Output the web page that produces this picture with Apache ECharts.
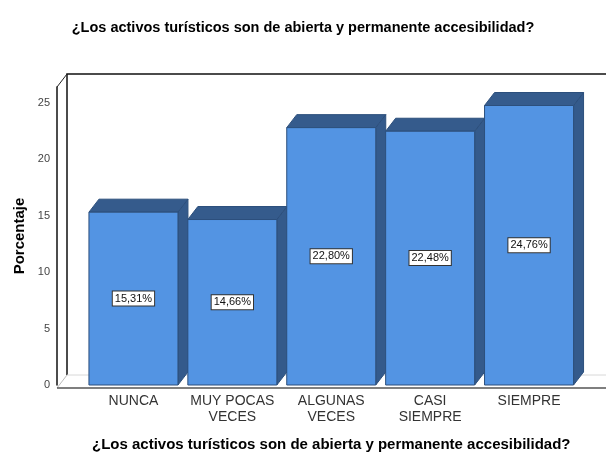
<!DOCTYPE html>
<html>
<head>
<meta charset="utf-8">
<script src="https://cdn.jsdelivr.net/npm/echarts@6/dist/echarts.min.js"></script>
<style>
  html, body { margin: 0; padding: 0; background: #fff; }
  #chart { width: 606px; height: 457px; }
</style>
</head>
<body>
<div id="chart"></div>
<script>
// Response categories and their percentages
const categories = ['NUNCA', 'MUY POCAS\nVECES', 'ALGUNAS\nVECES', 'CASI\nSIEMPRE', 'SIEMPRE'];
const percentages = [15.31, 14.66, 22.80, 22.48, 24.76];
const yTicks = [0, 5, 10, 15, 20, 25];

const chartTitle = '¿Los activos turísticos son de abierta y permanente accesibilidad?';
const FONT = 'Arial, "Liberation Sans", sans-serif';

// Pseudo-3D depth of the boxes and of the chart frame
const DX = 10, DY = 13;

// Plot frame (front face of the box)
const FRONT_LEFT = 57, FRONT_TOP = 87, FRONT_BOTTOM = 388, RIGHT_EDGE = 606;
const GRID_LEFT = 84, GRID_RIGHT = 27.5;

const chart = echarts.init(document.getElementById('chart'), null, { renderer: 'canvas' });

function fmt(v) {
  return v.toFixed(2).replace('.', ',') + '%';
}

function renderBox(params, api) {
  const idx = api.value(0);
  const v = api.value(1);
  const top = api.coord([idx, v]);
  const base = api.coord([idx, 0]);
  const w = api.size([1, 0])[0] * 0.9;
  const L = top[0] - w / 2, R = top[0] + w / 2, T = top[1], B = base[1];
  const edge = { stroke: '#2c4f7c', lineWidth: 1 };
  return {
    type: 'group',
    children: [
      {
        type: 'polygon',
        shape: { points: [[R, T], [R + DX, T - DY], [R + DX, B - DY], [R, B]] },
        style: Object.assign({ fill: '#345a8b' }, edge)
      },
      {
        type: 'polygon',
        shape: { points: [[L, T], [L + DX, T - DY], [R + DX, T - DY], [R, T]] },
        style: Object.assign({ fill: '#355b8c' }, edge)
      },
      {
        type: 'rect',
        shape: { x: L, y: T, width: w, height: B - T },
        style: Object.assign({ fill: '#5394e3' }, edge)
      },
      {
        type: 'text',
        x: (L + R) / 2,
        y: (T + B) / 2,
        style: {
          text: fmt(v),
          fill: '#111',
          font: '11px ' + FONT,
          align: 'center',
          verticalAlign: 'middle',
          backgroundColor: '#fff',
          borderColor: '#333',
          borderWidth: 1,
          padding: [2, 2, 1, 2]
        }
      }
    ]
  };
}

const option = {
  backgroundColor: '#fff',
  animation: false,
  title: {
    text: chartTitle,
    left: 'center',
    top: 15,
    textStyle: { fontFamily: FONT, fontSize: 14.5, fontWeight: 'bold', color: '#000' }
  },
  grid: {
    left: GRID_LEFT,
    right: GRID_RIGHT,
    top: FRONT_TOP,
    bottom: 457 - FRONT_BOTTOM
  },
  xAxis: {
    type: 'category',
    data: categories,
    axisLine: { show: false },
    axisTick: { show: false },
    axisLabel: {
      interval: 0,
      margin: 8,
      fontFamily: FONT,
      fontSize: 14,
      lineHeight: 16,
      color: '#333'
    },
    name: chartTitle,
    nameLocation: 'middle',
    nameGap: 52,
    nameTextStyle: { fontFamily: FONT, fontSize: 15, fontWeight: 'bold', color: '#000' }
  },
  yAxis: {
    type: 'value',
    min: 0,
    max: 26.4,
    interval: 5,
    offset: GRID_LEFT - FRONT_LEFT,
    axisLine: { show: true, lineStyle: { color: '#111', width: 1.5 } },
    axisTick: { show: false },
    splitLine: { show: false },
    axisLabel: {
      margin: 7,
      fontFamily: FONT,
      fontSize: 11,
      color: '#444',
      formatter: function (val) { return yTicks.indexOf(val) >= 0 ? String(val) : ''; }
    },
    name: 'Porcentaje',
    nameLocation: 'middle',
    nameGap: 30,
    nameTextStyle: { fontFamily: FONT, fontSize: 15, fontWeight: 'bold', color: '#000' }
  },
  graphic: [
    // back wall and floor outline
    {
      type: 'polyline', silent: true, z: 0,
      shape: { points: [[RIGHT_EDGE, FRONT_TOP - DY], [FRONT_LEFT + DX, FRONT_TOP - DY], [FRONT_LEFT + DX, FRONT_BOTTOM - DY]] },
      style: { stroke: '#111', lineWidth: 1.5, fill: null }
    },
    {
      type: 'line', silent: true, z: 0,
      shape: { x1: FRONT_LEFT, y1: FRONT_TOP, x2: FRONT_LEFT + DX, y2: FRONT_TOP - DY },
      style: { stroke: '#222', lineWidth: 1 }
    },
    {
      type: 'line', silent: true, z: 0,
      shape: { x1: FRONT_LEFT + DX, y1: FRONT_BOTTOM - DY, x2: RIGHT_EDGE, y2: FRONT_BOTTOM - DY },
      style: { stroke: '#d8d8d8', lineWidth: 1 }
    },
    {
      type: 'line', silent: true, z: 0,
      shape: { x1: FRONT_LEFT, y1: FRONT_BOTTOM, x2: FRONT_LEFT + DX, y2: FRONT_BOTTOM - DY },
      style: { stroke: '#bbb', lineWidth: 1 }
    },
    {
      type: 'line', silent: true, z: 10,
      shape: { x1: FRONT_LEFT, y1: FRONT_BOTTOM, x2: RIGHT_EDGE, y2: FRONT_BOTTOM },
      style: { stroke: '#555', lineWidth: 1.5 }
    }
  ],
  series: [
    {
      type: 'custom',
      renderItem: renderBox,
      clip: false,
      encode: { x: 0, y: 1 },
      data: percentages.map(function (v, i) { return [i, v]; })
    }
  ]
};

chart.setOption(option);
</script>
</body>
</html>
